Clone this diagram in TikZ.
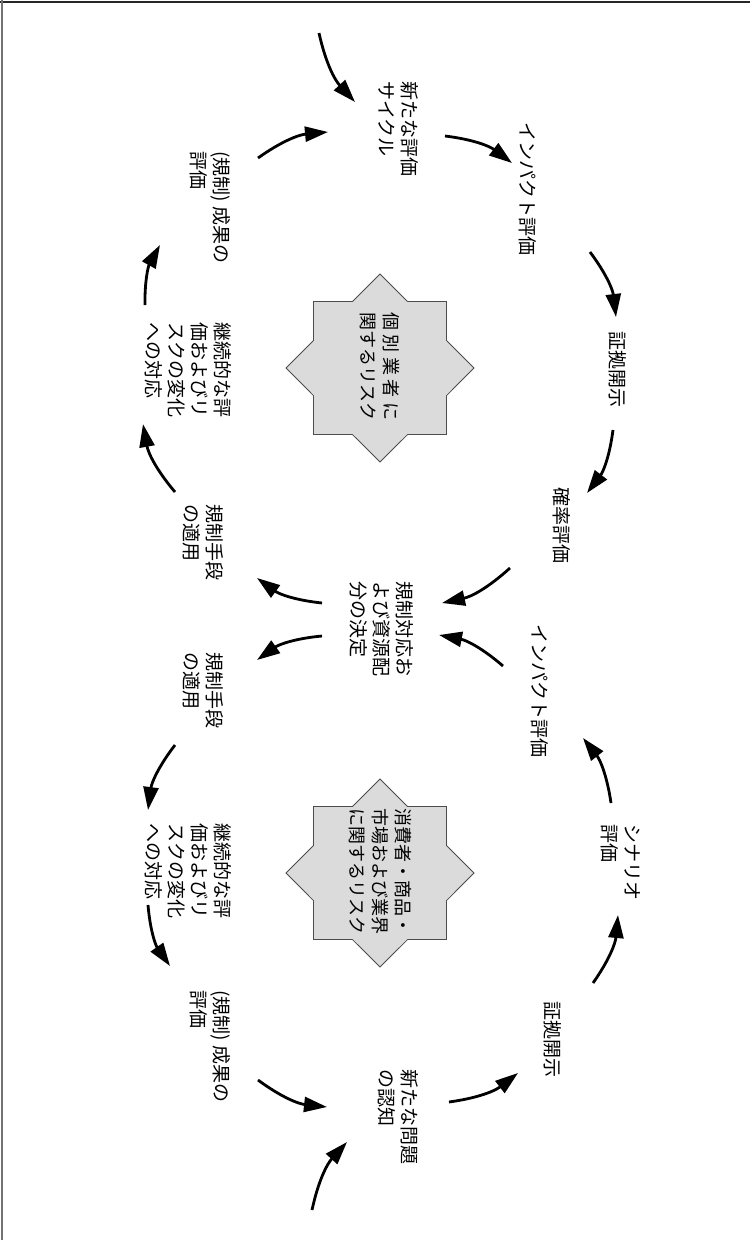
\documentclass[tikz,border=0pt]{standalone}
\usepackage{fontspec}
\setmainfont{Noto Sans CJK JP}
\usetikzlibrary{arrows.meta}
\begin{document}
\begin{tikzpicture}[x=1pt,y=-1pt,
  lbl/.style={rotate=-90, anchor=north west, inner sep=0pt, align=left, font=\fontsize{19}{23}\selectfont},
  starlbl/.style={rotate=-90, anchor=center, inner sep=0pt, align=left, font=\fontsize{18}{23}\selectfont},
  starsty/.style={fill=black!14, draw=black!70, line width=0.8pt},
  arr/.style={line width=2.8pt, -{Triangle[length=23pt,width=15pt]}},
  frame/.style={line width=1.5pt}
]
\useasboundingbox (0,0) rectangle (750,1240);
\draw[frame, black!85] (0,2) -- (750,2);
\draw[frame, black!55] (2,0) -- (2,1240);

% stars
\begin{scope}[shift={(380,368)}]
  \filldraw[starsty] (0:94) \foreach \i in {1,...,15}{ -- ({\i*22.5}:{94-22*mod(\i,2)}) } -- cycle;
\end{scope}
\begin{scope}[shift={(380,873)}]
  \filldraw[starsty] (0:94) \foreach \i in {1,...,15}{ -- ({\i*22.5}:{94-22*mod(\i,2)}) } -- cycle;
\end{scope}
\node[starlbl] (s1) at (380,366) {\hbox to 6em{個\hfill 別\hfill 業\hfill 者\hfill に}\\関するリスク};
\node[starlbl] (s2) at (380,871) {消費者・商品・\\市場および業界\\に関するリスク};

% labels
\node[lbl] (A) at (419,81) {新たな評価\\サイクル};
\node[lbl] (B) at (537,122) {インパクト評価};
\node[lbl] (C) at (627,331) {証拠開示};
\node[lbl] (D) at (571,487) {確率評価};
\node[lbl] (E) at (414,581) {規制対応お\\よび資源配\\分の決定};
\node[lbl] (F) at (224,504) {規制手段\\の適用};
\node[lbl] (G) at (224,652) {規制手段\\の適用};
\node[lbl] (H) at (232,322) {継続的な評\\価およびリ\\スクの変化\\への対応};
\node[lbl] (I) at (231,151) {(規制) 成果の\\評価};
\node[lbl] (J) at (549,624) {インパクト評価};
\node[lbl] (K) at (641,824) {シナリオ\\評価};
\node[lbl] (L) at (562,1001) {証拠開示};
\node[lbl] (M) at (419,1069) {新たな問題\\の認知};
\node[lbl] (N) at (231,990) {(規制) 成果の\\評価};
\node[lbl] (O) at (232,823) {継続的な評\\価およびリ\\スクの変化\\への対応};

% arrow end points
\coordinate (t0a) at (319,33);  \coordinate (t0b) at (355,102);
\coordinate (ab1) at (445,136); \coordinate (ab2) at (512,163);
\coordinate (bc1) at (590,252); \coordinate (bc2) at (616,317);
\coordinate (cd1) at (613,430); \coordinate (cd2) at (587,493);
\coordinate (de1) at (510,568); \coordinate (de2) at (442,603);
\coordinate (ef1) at (322,603); \coordinate (ef2) at (257,578);
\coordinate (fh1) at (175,492); \coordinate (fh2) at (143,424);
\coordinate (hi1) at (145,305); \coordinate (hi2) at (160,245);
\coordinate (ia1) at (258,158); \coordinate (ia2) at (328,132);

\coordinate (eg1) at (322,636); \coordinate (eg2) at (257,660);
\coordinate (go1) at (175,745); \coordinate (go2) at (148,810);
\coordinate (on1) at (148,905); \coordinate (on2) at (170,966);
\coordinate (nm1) at (258,1080); \coordinate (nm2) at (327,1107);
\coordinate (ml1) at (449,1102); \coordinate (ml2) at (518,1073);
\coordinate (lk1) at (593,983); \coordinate (lk2) at (618,915);
\coordinate (kj1) at (611,803); \coordinate (kj2) at (583,738);
\coordinate (je1) at (503,666); \coordinate (je2) at (439,635);
\coordinate (t1a) at (312,1210); \coordinate (t1b) at (347,1142);

% upper cycle
\draw[arr] (t0a) to[bend right=15] (t0b);
\draw[arr] (ab1) to[bend left=15] (ab2);
\draw[arr] (bc1) to[bend left=15] (bc2);
\draw[arr] (cd1) to[bend left=15] (cd2);
\draw[arr] (de1) to[bend left=15] (de2);
\draw[arr] (ef1) to[bend left=15] (ef2);
\draw[arr] (fh1) to[bend left=15] (fh2);
\draw[arr] (hi1) to[bend left=15] (hi2);
\draw[arr] (ia1) to[bend left=15] (ia2);
% lower cycle
\draw[arr] (eg1) to[bend right=15] (eg2);
\draw[arr] (go1) to[bend right=15] (go2);
\draw[arr] (on1) to[bend right=15] (on2);
\draw[arr] (nm1) to[bend right=15] (nm2);
\draw[arr] (ml1) to[bend right=15] (ml2);
\draw[arr] (lk1) to[bend right=15] (lk2);
\draw[arr] (kj1) to[bend right=15] (kj2);
\draw[arr] (je1) to[bend right=15] (je2);
\draw[arr] (t1a) to[bend left=15] (t1b);
\end{tikzpicture}
\end{document}
